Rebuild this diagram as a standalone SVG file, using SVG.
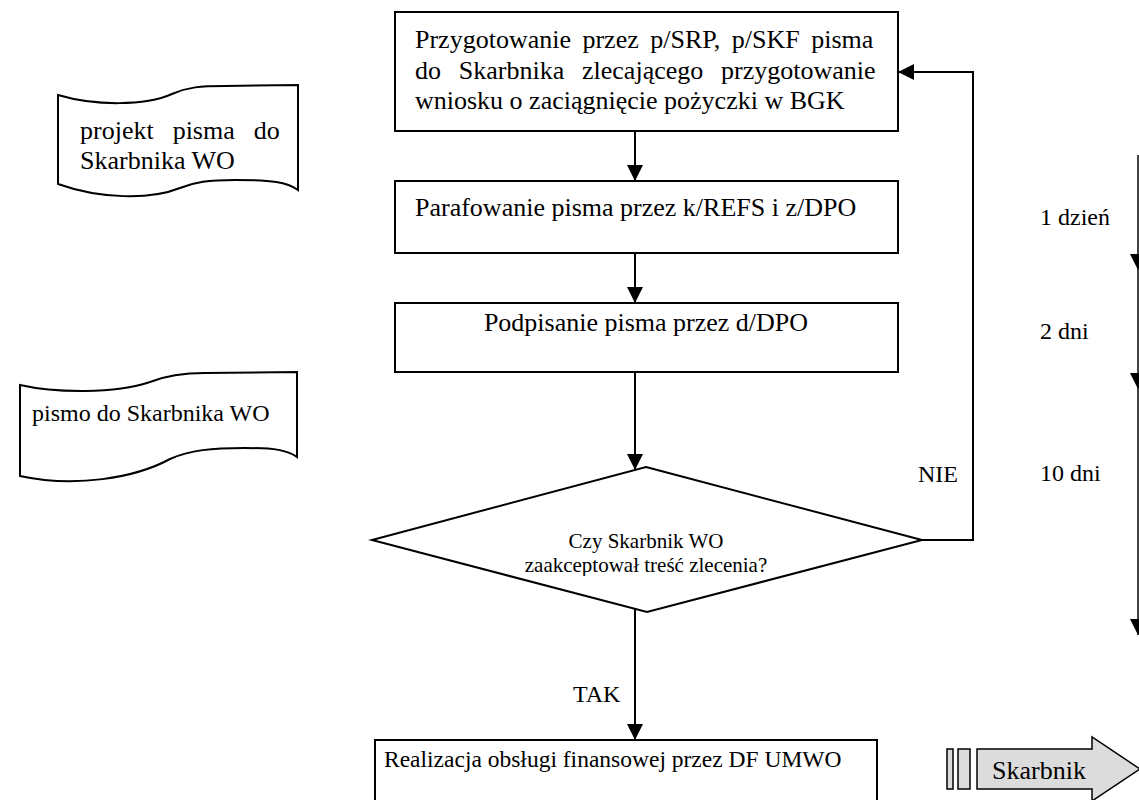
<svg xmlns="http://www.w3.org/2000/svg" width="1139" height="800" viewBox="0 0 1139 800">
<style>
.t{font-family:"Liberation Serif","Times New Roman",serif;fill:#000}
.f26{font-size:26px}
.f24{font-size:24px}
.f21{font-size:21px}
.box{fill:#fff;stroke:#000;stroke-width:2}
.doc{fill:#fff;stroke:#000;stroke-width:2}
.ln{fill:none;stroke:#000;stroke-width:2}
.tl{fill:none;stroke:#000;stroke-width:1.5}
.sk{fill:#dcdcdc;stroke:#000;stroke-width:1.5}
</style>
<defs>
<marker id="ah" viewBox="0 0 16 16" refX="16" refY="8" markerWidth="16" markerHeight="16" markerUnits="userSpaceOnUse" orient="auto">
<path d="M0,0 L16,8 L0,16 Z" fill="#000"/>
</marker>
<clipPath id="dclip"><rect x="372" y="460" width="550" height="116"/></clipPath>
</defs>
<rect width="1139" height="800" fill="#fff"/>

<g id="connectors">
<line class="ln" x1="635" y1="131" x2="635" y2="181" marker-end="url(#ah)"/>
<line class="ln" x1="635" y1="253" x2="635" y2="303" marker-end="url(#ah)"/>
<line class="ln" x1="635" y1="372" x2="635" y2="470" marker-end="url(#ah)"/>
<line class="ln" x1="635" y1="609" x2="635" y2="740" marker-end="url(#ah)"/>
<polyline class="ln" points="922,540 973,540 973,72 898,72" marker-end="url(#ah)"/>
<line class="tl" x1="1138" y1="155" x2="1138" y2="270" marker-end="url(#ah)"/>
<line class="tl" x1="1138" y1="270" x2="1138" y2="389" marker-end="url(#ah)"/>
<line class="tl" x1="1138" y1="389" x2="1138" y2="635" marker-end="url(#ah)"/>
</g>

<g id="n-przygotowanie">
<rect class="box" x="395" y="12" width="503" height="119"/>
<text class="t f26" x="415" y="48" word-spacing="5">Przygotowanie przez p/SRP, p/SKF pisma</text>
<text class="t f26" x="415" y="79" word-spacing="11.3">do Skarbnika zlecającego przygotowanie</text>
<text class="t f26" x="415" y="109">wniosku o zaciągnięcie pożyczki w BGK</text>
</g>

<g id="n-parafowanie">
<rect class="box" x="395" y="181" width="503" height="72"/>
<text class="t f26" x="415" y="216">Parafowanie pisma przez k/REFS i z/DPO</text>
</g>

<g id="n-podpisanie">
<rect class="box" x="395" y="303" width="503" height="69"/>
<text class="t f26" x="646" y="331" text-anchor="middle">Podpisanie pisma przez d/DPO</text>
</g>

<g id="n-decyzja">
<polygon class="box" points="646,467 922,540 647,612 372,540"/>
<g clip-path="url(#dclip)">
<text class="t f21" x="646" y="548" text-anchor="middle">Czy Skarbnik WO</text>
<text class="t f21" x="646" y="572" text-anchor="middle">zaakceptował treść zlecenia?</text>
</g>
</g>

<g id="n-realizacja">
<rect class="box" x="375" y="740" width="502" height="80"/>
<text class="t" font-size="23.5" x="384" y="767">Realizacja obsługi finansowej przez DF UMWO</text>
</g>

<g id="n-doc-projekt">
<path class="doc" d="M58,95 C95,106 145,106 172,94 C188,87 200,86 225,86 L298,85 L298,190 C287,182 272,180 235,180 C208,180 195,182 180,188 C150,200 100,199 58,184 Z"/>
<text class="t f26" x="80" y="139" word-spacing="12.5">projekt pisma do</text>
<text class="t f26" x="80" y="169">Skarbnika WO</text>
</g>

<g id="n-doc-pismo">
<path class="doc" d="M20,385 C55,393 115,394 150,382 C165,376 180,373 205,373 L297,372 L297,457 C287,450 275,448 245,448 C212,448 190,450 170,459 C135,478 75,488 20,476 Z"/>
<text class="t f24" x="32" y="421">pismo do Skarbnika WO</text>
</g>

<g id="n-skarbnik">
<rect class="sk" x="947" y="749" width="6" height="40"/>
<rect class="sk" x="958" y="749" width="12" height="40"/>
<path class="sk" d="M977,749 L1092,749 L1092,737 L1140,769 L1092,801 L1092,789 L977,789 Z"/>
<text class="t f26" x="992" y="779">Skarbnik</text>
</g>

<g id="labels">
<text class="t f24" x="918" y="482">NIE</text>
<text class="t f24" x="573" y="702">TAK</text>
<text class="t f24" x="1040" y="225">1 dzień</text>
<text class="t f24" x="1040" y="339">2 dni</text>
<text class="t f24" x="1040" y="481">10 dni</text>
</g>
</svg>
